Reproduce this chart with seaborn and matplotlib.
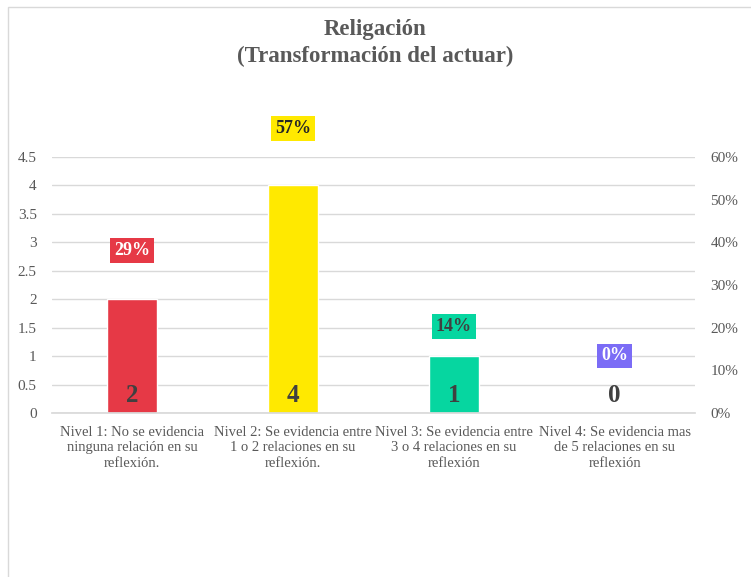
import matplotlib
matplotlib.use("Agg")
import matplotlib.pyplot as plt
import seaborn as sns
import pandas as pd
from matplotlib.patches import Rectangle

# Data
categories = [
    "Nivel 1: No se evidencia\nninguna relación en su\nreflexión.",
    "Nivel 2: Se evidencia entre\n1 o 2 relaciones en su\nreflexión.",
    "Nivel 3: Se evidencia entre\n3 o 4 relaciones en su\nreflexión",
    "Nivel 4: Se evidencia mas\nde 5 relaciones en su\nreflexión",
]
counts = [2, 4, 1, 0]
shares = [0.2857, 0.5714, 0.1429, 0.0]
left_ticks = [0, 0.5, 1, 1.5, 2, 2.5, 3, 3.5, 4, 4.5]
right_ticks = [0, 0.1, 0.2, 0.3, 0.4, 0.5, 0.6]

# Style
bar_colors = ["#E63946", "#FFE900", "#06D6A0", "#7B6CF6"]
pct_text_colors = ["white", "#262626", "#404040", "white"]
pct_offsets_px = [41, 41, 26, 57]
grid_color = "#D9D9D9"
text_gray = "#595959"

sns.set_theme(style="white")
plt.rcParams["font.family"] = ["Liberation Serif", "DejaVu Serif"]

fig = plt.figure(figsize=(7.51, 5.77), dpi=100)
W, H = 751, 577

# Light frame around the chart area
fig.patches.append(Rectangle((8 / W, -0.1), 2, (H - 7) / H + 0.1,
                             transform=fig.transFigure, fill=False,
                             edgecolor="#D9D9D9", linewidth=1.0))

ax = fig.add_axes([52 / W, (H - 413) / H, (695 - 52) / W, (413 - 157) / H])

df = pd.DataFrame({"cat": categories, "count": counts})
sns.barplot(data=df, x="cat", y="count", hue="cat", palette=bar_colors,
            legend=False, width=0.31, ax=ax, saturation=1)

ax.set_ylim(0, 4.5)
ax.set_yticks(left_ticks)
ax.set_yticklabels([f"{t:g}" for t in left_ticks], color=text_gray, fontsize=11)
ax.set_xlabel("")
ax.set_ylabel("")
ax.tick_params(axis="x", length=0, pad=9, labelsize=10.5, labelcolor=text_gray)
ax.tick_params(axis="y", length=0, pad=11)
for lbl in ax.get_xticklabels():
    lbl.set_linespacing(1.28)
ax.yaxis.grid(True, color=grid_color, linewidth=1)
ax.set_axisbelow(True)
for s in ["top", "right", "left"]:
    ax.spines[s].set_visible(False)
ax.spines["bottom"].set_color(grid_color)

# Count labels at the bottom of each bar
for i, c in enumerate(counts):
    ax.annotate(f"{c}", xy=(i, 0), xytext=(0, 18), textcoords="offset pixels",
                ha="center", va="center", fontsize=18, fontweight="bold",
                color="#404040")

# Secondary axis for the percentage share
ax2 = ax.twinx()
ax2.plot(range(len(shares)), shares, alpha=0)
ax2.set_ylim(0, 0.6)
ax2.set_yticks(right_ticks)
ax2.set_yticklabels([f"{int(round(t * 100))}%" for t in right_ticks],
                    color=text_gray, fontsize=11)
ax2.tick_params(axis="y", length=0, pad=11)
for s in ["top", "right", "left", "bottom"]:
    ax2.spines[s].set_visible(False)
ax.set_xlim(-0.5, len(categories) - 0.5)

for i, p in enumerate(shares):
    ax2.annotate(f"{round(p * 100):.0f}%", xy=(i, p),
                 xytext=(0, pct_offsets_px[i]), textcoords="offset pixels",
                 ha="center", va="center", fontsize=13, fontweight="bold",
                 color=pct_text_colors[i],
                 bbox=dict(boxstyle="square,pad=0.22", facecolor=bar_colors[i],
                           edgecolor="none"))

fig.text(0.5, (H - 29) / H, "Religación", ha="center", va="center",
         fontsize=16.5, fontweight="bold", color=text_gray)
fig.text(0.5, (H - 56) / H, "(Transformación del actuar)", ha="center",
         va="center", fontsize=16.5, fontweight="bold", color=text_gray)

fig.savefig("out.png", dpi=100)
